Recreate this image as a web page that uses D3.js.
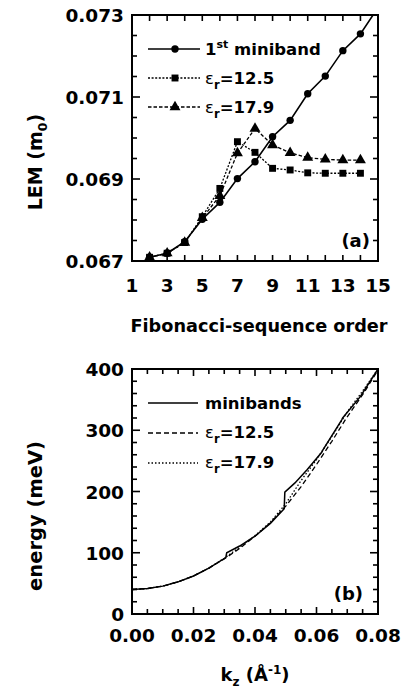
<!DOCTYPE html>
<html><head><meta charset="utf-8">
<script src="https://cdn.jsdelivr.net/npm/d3@7"></script>
<style>
body{margin:0;background:#fff;}
svg text{font-family:"DejaVu Sans",sans-serif;font-weight:bold;fill:#000;}
</style></head>
<body>
<svg id="c" width="407" height="698"></svg>
<script>
// ---------- panel (a) data ----------
const fibOrder = [2,3,4,5,6,7,8,9,10,11,12,13,14];
const fibOrderMini = [2,3,4,5,6,7,8,9,10,11,12,13,14,15];
const lemMiniband = [0.06709,0.06719,0.06747,0.06802,0.06843,0.06901,0.06942,0.07003,0.07043,0.07108,0.07151,0.07213,0.07254,0.07318];
const lemEps125 = [0.06709,0.06719,0.06745,0.06808,0.06877,0.06991,0.06965,0.06926,0.06922,0.06915,0.06914,0.06914,0.06914];
const lemEps179 = [0.06709,0.06719,0.06745,0.06805,0.06859,0.06963,0.07023,0.06983,0.06964,0.06952,0.06948,0.06946,0.06946];
const xTicksA = [1,3,5,7,9,11,13,15];
const yTicksA = [0.067,0.069,0.071,0.073];

// ---------- panel (b) data ----------
const kzMini = [0,0.005,0.01,0.015,0.02,0.025,0.0305,0.0308,0.035,0.04,0.045,0.0495,0.0497,0.053,0.057,0.0617,0.062,0.0682,0.0685,0.0741,0.0745,0.08];
const eMini  = [40,41.5,45.5,52.5,62,75,92,100,111,127,148,172,199,214,236,264,267,317,320,354,357,400];
const kzEps = [0,0.005,0.01,0.015,0.02,0.025,0.03,0.035,0.04,0.045,0.05,0.055,0.06,0.065,0.07,0.075,0.08];
const eEps125 = [40,41.5,45.5,52.5,62,75,90,107,127,149,176,208,244,282,322,358,398];
const eEps179 = [40,41.5,45.5,52.5,62,75,91,109,128,150,180,218,252,290,330,364,400];
const xTicksB = [0,0.02,0.04,0.06,0.08];
const yTicksB = [0,100,200,300,400];

const svg = d3.select("#c");
svg.append("rect").attr("width",407).attr("height",698).attr("fill","#fff");

function frame(g, x0, x1, y0, y1){
  g.append("rect").attr("x",x0).attr("y",y0).attr("width",x1-x0).attr("height",y1-y0)
   .attr("fill","none").attr("stroke","#000").attr("stroke-width",2);
}
function ticks(g, xs, ys, x, y, xr, yr){
  xs.forEach(t=>{
    const px = x(t.v);
    g.append("line").attr("x1",px).attr("x2",px).attr("y1",yr[0]).attr("y2",yr[0]-t.len).attr("stroke","#000").attr("stroke-width",1.6);
    g.append("line").attr("x1",px).attr("x2",px).attr("y1",yr[1]).attr("y2",yr[1]+t.len).attr("stroke","#000").attr("stroke-width",1.6);
  });
  ys.forEach(t=>{
    const py = y(t.v);
    g.append("line").attr("y1",py).attr("y2",py).attr("x1",xr[0]).attr("x2",xr[0]+t.len).attr("stroke","#000").attr("stroke-width",1.6);
    g.append("line").attr("y1",py).attr("y2",py).attr("x1",xr[1]).attr("x2",xr[1]-t.len).attr("stroke","#000").attr("stroke-width",1.6);
  });
}

// ================= Panel (a) =================
const xa = d3.scaleLinear().domain([1,15]).range([132,378]);
const ya = d3.scaleLinear().domain([0.067,0.073]).range([261,15]);
const ga = svg.append("g");
svg.append("clipPath").attr("id","clipA").append("rect").attr("x",132).attr("y",15).attr("width",246).attr("height",246);
const pa = ga.append("g").attr("clip-path","url(#clipA)");

const lineA = (xs, ys) => d3.line().x((d,i)=>xa(xs[i])).y(d=>ya(d))(ys);
pa.append("path").attr("d",lineA(fibOrder,lemEps125)).attr("fill","none").attr("stroke","#000").attr("stroke-width",1.3).attr("stroke-dasharray","2,1.6");
pa.append("path").attr("d",lineA(fibOrder,lemEps179)).attr("fill","none").attr("stroke","#000").attr("stroke-width",1.3).attr("stroke-dasharray","3.5,2");
pa.append("path").attr("d",lineA(fibOrderMini,lemMiniband)).attr("fill","none").attr("stroke","#000").attr("stroke-width",1.6);

const sq = d3.symbol().type(d3.symbolSquare).size(48);
const tri = d3.symbol().type(d3.symbolTriangle).size(52);
pa.selectAll(".sq").data(lemEps125).join("path").attr("d",sq)
  .attr("transform",(d,i)=>`translate(${xa(fibOrder[i])},${ya(d)})`).attr("fill","#000");
pa.selectAll(".tr").data(lemEps179).join("path").attr("d",tri)
  .attr("transform",(d,i)=>`translate(${xa(fibOrder[i])},${ya(d)})`).attr("fill","#000");
pa.selectAll(".ci").data(lemMiniband).join("circle").attr("r",3.7)
  .attr("cx",(d,i)=>xa(fibOrderMini[i])).attr("cy",d=>ya(d)).attr("fill","#000");

frame(ga,132,378,15,261);
ticks(ga, d3.range(1,16).map(v=>({v,len:6})),
      d3.range(0,13).map(i=>({v:0.067+i*0.0005,len:(i%4===0)?8:5})), xa, ya, [132,378],[261,15]);

yTicksA.forEach(v=>{
  ga.append("text").attr("x",124).attr("y",ya(v)+7).attr("text-anchor","end").attr("font-size",18.5).text(v.toFixed(3));
});
xTicksA.forEach(v=>{
  ga.append("text").attr("x",xa(v)).attr("y",292).attr("text-anchor","middle").attr("font-size",18.5).text(v);
});
ga.append("text").attr("x",259).attr("y",332).attr("text-anchor","middle").attr("font-size",17.7).text("Fibonacci-sequence order");
ga.append("text").attr("transform","translate(42,162) rotate(-90)").attr("text-anchor","middle").attr("font-size",19)
  .call(t=>{t.append("tspan").text("LEM (m");t.append("tspan").attr("font-size",12.5).attr("dy",5).text("0");t.append("tspan").attr("dy",-5).text(")");});
ga.append("text").attr("x",370).attr("y",247).attr("text-anchor","end").attr("font-size",18).text("(a)");

// legend (a)
const legA = [
  {y:49, dash:null, mark:"c"},
  {y:78, dash:"2,1.6", mark:"s"},
  {y:107, dash:"3.5,2", mark:"t"}
];
legA.forEach(l=>{
  const ln = ga.append("line").attr("x1",148).attr("x2",200).attr("y1",l.y).attr("y2",l.y).attr("stroke","#000").attr("stroke-width",l.dash?1.3:1.6);
  if(l.dash) ln.attr("stroke-dasharray",l.dash);
  if(l.mark==="c") ga.append("circle").attr("cx",175).attr("cy",l.y).attr("r",3.7).attr("fill","#000");
  if(l.mark==="s") ga.append("path").attr("d",sq).attr("transform",`translate(175,${l.y})`).attr("fill","#000");
  if(l.mark==="t") ga.append("path").attr("d",tri).attr("transform",`translate(175,${l.y})`).attr("fill","#000");
});
ga.append("text").attr("x",205).attr("y",55).attr("font-size",16.5)
  .call(t=>{t.append("tspan").text("1");t.append("tspan").attr("font-size",11).attr("dy",-7).text("st");t.append("tspan").attr("dy",7).text(" miniband");});
function epsLabel(g,x,y,val,fs){
  g.append("text").attr("x",x).attr("y",y).attr("font-size",fs)
   .call(t=>{t.append("tspan").attr("font-weight","normal").text("ε");
            t.append("tspan").attr("font-size",fs*0.7).attr("dy",5).text("r");
            t.append("tspan").attr("dy",-5).text("="+val);});
}
epsLabel(ga,205,84,"12.5",16.5);
epsLabel(ga,205,113,"17.9",16.5);

// ================= Panel (b) =================
const xb = d3.scaleLinear().domain([0,0.08]).range([132,378]);
const yb = d3.scaleLinear().domain([0,400]).range([614,369]);
const gb = svg.append("g");
svg.append("clipPath").attr("id","clipB").append("rect").attr("x",132).attr("y",369).attr("width",246).attr("height",245);
const pb = gb.append("g").attr("clip-path","url(#clipB)");
const lineB = (xs, ys) => d3.line().x((d,i)=>xb(xs[i])).y(d=>yb(d))(ys);
pb.append("path").attr("d",lineB(kzEps,eEps179)).attr("fill","none").attr("stroke","#000").attr("stroke-width",1.3).attr("stroke-dasharray","1.5,2");
pb.append("path").attr("d",lineB(kzEps,eEps125)).attr("fill","none").attr("stroke","#000").attr("stroke-width",1.3).attr("stroke-dasharray","5,3");
pb.append("path").attr("d",lineB(kzMini,eMini)).attr("fill","none").attr("stroke","#000").attr("stroke-width",1.5);

frame(gb,132,378,369,614);
ticks(gb, d3.range(0,17).map(i=>({v:i*0.005,len:(i%4===0)?7:5})),
      d3.range(0,21).map(i=>({v:i*20,len:(i%5===0)?8:5})), xb, yb, [132,378],[614,369]);
yTicksB.forEach(v=>{
  gb.append("text").attr("x",124).attr("y",yb(v)+7).attr("text-anchor","end").attr("font-size",18.5).text(v);
});
xTicksB.forEach(v=>{
  gb.append("text").attr("x",xb(v)).attr("y",642).attr("text-anchor","middle").attr("font-size",18.5).text(v.toFixed(2));
});
gb.append("text").attr("x",255).attr("y",681).attr("text-anchor","middle").attr("font-size",18)
  .call(t=>{t.append("tspan").text("k");t.append("tspan").attr("font-size",12).attr("dy",5).text("z");
           t.append("tspan").attr("dy",-5).text(" (Å");t.append("tspan").attr("font-size",12).attr("dy",-7).text("-1");
           t.append("tspan").attr("dy",7).text(")");});
gb.append("text").attr("transform","translate(42,516) rotate(-90)").attr("text-anchor","middle").attr("font-size",19.5).text("energy (meV)");
gb.append("text").attr("x",363).attr("y",600).attr("text-anchor","end").attr("font-size",18).text("(b)");

const legB = [{y:403,dash:null,w:1.5},{y:433,dash:"5,3",w:1.3},{y:463,dash:"1.5,2",w:1.3}];
legB.forEach(l=>{
  const ln = gb.append("line").attr("x1",148).attr("x2",198).attr("y1",l.y).attr("y2",l.y).attr("stroke","#000").attr("stroke-width",l.w);
  if(l.dash) ln.attr("stroke-dasharray",l.dash);
});
gb.append("text").attr("x",205).attr("y",409).attr("font-size",16.5).text("minibands");
epsLabel(gb,205,438,"12.5",16.5);
epsLabel(gb,205,468,"17.9",16.5);
</script>
</body></html>
